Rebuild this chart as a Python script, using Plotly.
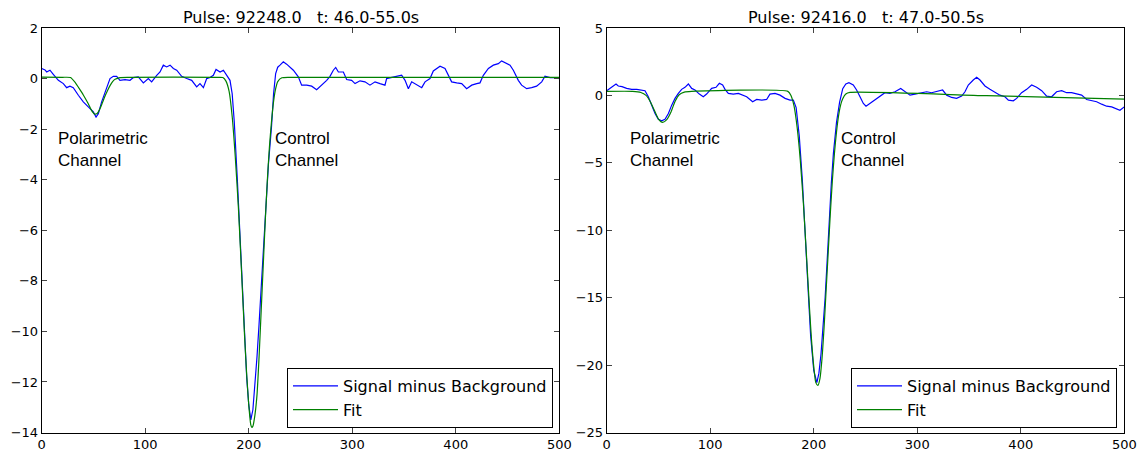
import plotly.graph_objects as go

# ---------------- data ----------------
# Left panel: Pulse 92248.0
left_sig_x = [0, 3.2, 4.8, 8.0, 11.2, 16.1, 20.9, 24.1, 27.3, 30.5, 35.4, 40.2, 45.0, 49.9, 52.5, 54.7,
              57.9, 62.1, 66.0, 69.2, 72.4, 75.6, 80.5, 85.3, 88.5, 93.3, 98.2, 103.0, 106.2, 111.1,
              114.3, 117.5, 120.7, 124.0, 127.2, 130.4, 135.2, 140.1, 144.9, 149.7, 152.9, 156.2,
              159.4, 162.6, 165.8, 168.4, 172.3, 175.5, 178.7, 181.9, 184, 186, 189, 192, 195, 198,
              200, 202, 204, 206, 208, 210, 213, 216, 219, 222, 224, 226, 228, 230.2, 233.4, 236.6,
              239.9, 243.1, 247.9, 251.1, 256.0, 260.8, 265.6, 270.5, 275.3, 278.5, 281.7, 284.0,
              286.6, 291.4, 294.6, 299.4, 302.7, 307.5, 312.3, 317.1, 322.0, 326.8, 331.6, 333.2,
              338.1, 342.9, 347.7, 351.0, 354.2, 357.4, 362.2, 367.1, 370.3, 375.1, 378.3, 381.5,
              384.8, 389.6, 392.8, 396.0, 400.9, 405.7, 410.5, 415.4, 420.2, 423.4, 426.6, 431.5,
              436.3, 441.1, 444.3, 447.6, 452.4, 455.6, 460.4, 463.6, 468.5, 473.3, 478.1, 483.0,
              486.2, 491.0, 495.9, 500]
left_sig_y = [0.4, 0.34, 0.26, 0.33, 0.17, -0.07, -0.2, -0.36, -0.3, -0.36, -0.66, -0.92, -1.12, -1.32,
              -1.52, -1.39, -0.92, -0.4, 0.0, 0.09, 0.09, -0.07, -0.04, -0.07, 0.04, 0.07, -0.17, 0.0,
              -0.13, 0.13, 0.26, 0.53, 0.46, 0.53, 0.4, 0.33, 0.09, 0.0, -0.07, -0.33, -0.2, -0.36,
              0.0, 0.04, 0.13, 0.36, 0.26, 0.33, 0.13, -0.07, -0.6, -1.7, -4.0, -6.6, -9.3, -11.8,
              -12.9, -13.5, -13.1, -12.2, -11.0, -9.7, -7.6, -5.4, -3.4, -1.9, -0.6, 0.2, 0.45, 0.53,
              0.66, 0.57, 0.46, 0.33, 0.07, -0.26, -0.26, -0.3, -0.44, -0.26, -0.07, 0.09, 0.33, 0.44,
              0.26, 0.26, -0.04, -0.07, -0.2, -0.09, -0.13, -0.26, -0.13, -0.2, -0.26, 0.0, 0.04, 0.09,
              0.13, -0.07, -0.4, -0.13, -0.26, -0.36, -0.13, 0.0, 0.3, 0.4, 0.49, 0.4, 0.13, -0.13,
              -0.17, -0.2, -0.4, -0.26, -0.2, -0.17, 0.13, 0.4, 0.53, 0.59, 0.7, 0.62, 0.53, 0.33,
              -0.07, -0.26, -0.4, -0.36, -0.3, -0.13, 0.09, 0.04, 0.04, 0.0]

left_fit_x = [0, 20, 27.8, 32.6, 36, 40.2, 45, 48, 50.9, 53.5, 56.3, 58.7, 61.1, 63.5, 66, 68.5, 70.9,
              75.6, 85, 170, 175, 178, 181, 184, 187, 190, 193, 196, 198, 200, 202, 203, 204, 206,
              208, 210, 212, 214, 216, 218, 220, 222, 224, 226, 228, 232, 240, 500]
left_fit_y = [0.06, 0.05, 0.04, -0.17, -0.38, -0.65, -1.0, -1.25, -1.4, -1.38, -1.19, -0.95, -0.7,
              -0.48, -0.28, -0.12, -0.03, 0.04, 0.05, 0.05, 0.04, -0.1, -0.5, -1.5, -3.1, -5.1, -7.6,
              -10.2, -11.7, -12.9, -13.7, -13.8, -13.75, -13.3, -12.5, -11.0, -9.2, -7.4, -5.6, -4.0,
              -2.7, -1.7, -0.9, -0.4, -0.12, 0.03, 0.05, 0.05]

# Right panel: Pulse 92416.0
right_sig_x = [0, 3.1, 6.4, 9.0, 11.2, 14.8, 19.3, 24.1, 29.0, 33.8, 37.0, 40.2, 43.4, 46.7, 49.9, 53.1,
               56.3, 59.6, 62.8, 66.0, 69.2, 72.4, 75.6, 78.9, 82.1, 85.3, 89.5, 93.3, 96.5, 101.4,
               105.6, 108.8, 112.0, 114.3, 117.5, 122.3, 127.2, 131.4, 135.2, 141.0, 144.9, 149.7,
               154.5, 157.7, 162.6, 167.4, 172.3, 177.1, 180.3, 183, 186, 189, 192, 195, 197, 198,
               200, 203, 205, 207, 209, 211, 213, 215, 217, 219, 222, 225, 228, 231, 234, 238.2,
               241.4, 244.7, 247.9, 250.5, 254.3, 259.2, 264.0, 268.8, 273.6, 278.5, 284.0, 288.1,
               293.0, 297.8, 302.6, 309.1, 313.9, 318.7, 324.5, 328.4, 333.2, 338.0, 342.9, 346.1,
               349.3, 354.1, 357.4, 360.6, 365.4, 370.2, 375.1, 379.9, 384.7, 388.0, 392.8, 396.0,
               400.8, 405.7, 410.5, 415.3, 420.2, 425.0, 429.8, 434.6, 439.5, 444.3, 449.1, 454.0,
               458.8, 463.6, 468.5, 473.3, 478.1, 482.9, 487.8, 492.6, 495.8, 500]
right_sig_y = [0.35, 0.52, 0.7, 0.85, 0.7, 0.65, 0.52, 0.45, 0.45, 0.4, 0.35, -0.1, -0.72, -1.34, -1.77,
               -1.89, -1.77, -1.34, -0.72, -0.22, 0.15, 0.45, 0.6, 0.85, 0.52, 0.4, 0.1, -0.1, 0.1,
               0.52, 0.6, 0.9, 0.77, 0.45, 0.15, 0.1, 0.15, 0.02, -0.1, -0.47, -0.3, -0.35, -0.3, 0.1,
               0.15, 0.02, -0.22, -0.35, -0.35, -0.9, -3.0, -6.3, -10.2, -15.0, -17.8, -18.8, -20.4,
               -21.3, -20.6, -19.2, -17.4, -15.0, -12.2, -9.2, -6.5, -4.3, -2.0, -0.5, 0.5, 0.85, 0.95,
               0.77, 0.4, -0.1, -0.6, -0.8, -0.6, -0.3, -0.1, 0.2, 0.15, 0.27, 0.52, 0.27, 0.02, 0.1,
               0.15, 0.27, 0.2, 0.27, 0.4, 0.02, -0.15, -0.22, -0.05, 0.27, 0.77, 1.14, 1.34, 1.14,
               0.7, 0.45, 0.2, 0.02, -0.1, -0.35, -0.4, -0.22, 0.2, 0.45, 0.77, 0.6, 0.35, -0.05,
               -0.1, 0.27, 0.35, 0.2, 0.2, 0.1, 0.02, -0.3, -0.4, -0.47, -0.65, -0.8, -0.85, -0.97,
               -1.1, -0.85]

right_fit_x = [0, 25, 33, 38, 42, 46, 50, 54, 58, 62, 66, 70, 75, 82, 175, 178, 181, 184, 187, 190,
               193, 196, 198, 200, 202, 204, 206, 208, 210, 212, 214, 216, 218, 220, 222, 224, 226,
               228, 231, 235, 367, 500]
right_fit_y = [0.3, 0.3, 0.22, 0.0, -0.45, -1.1, -1.75, -2.0, -1.8, -1.25, -0.45, 0.05, 0.25, 0.3, 0.3,
               0.0, -0.8, -2.4, -4.8, -8.0, -11.9, -15.9, -18.3, -20.1, -21.3, -21.5, -21.0, -19.5,
               -17.2, -14.4, -11.6, -8.8, -6.3, -4.3, -2.7, -1.5, -0.7, -0.25, 0.1, 0.22, -0.02, -0.27]

titles = ["Pulse: 92248.0   t: 46.0-55.0s", "Pulse: 92416.0   t: 47.0-50.5s"]
x_ticks = [0, 100, 200, 300, 400, 500]
left_y_ticks = [-14, -12, -10, -8, -6, -4, -2, 0, 2]
right_y_ticks = [-25, -20, -15, -10, -5, 0, 5]
series_names = ["Signal minus Background", "Fit"]

# ---------------- figure ----------------
W, H = 1142, 451
BLUE, GREEN = "#0000ff", "#008000"

fig = go.Figure()
fig.add_trace(go.Scatter(x=left_sig_x, y=left_sig_y, mode="lines", name=series_names[0],
                         line=dict(color=BLUE, width=1.2), xaxis="x", yaxis="y", legend="legend"))
fig.add_trace(go.Scatter(x=left_fit_x, y=left_fit_y, mode="lines", name=series_names[1],
                         line=dict(color=GREEN, width=1.2, shape="spline", smoothing=0.6),
                         xaxis="x", yaxis="y", legend="legend"))
fig.add_trace(go.Scatter(x=right_sig_x, y=right_sig_y, mode="lines", name=series_names[0],
                         line=dict(color=BLUE, width=1.2), xaxis="x2", yaxis="y2", legend="legend2"))
fig.add_trace(go.Scatter(x=right_fit_x, y=right_fit_y, mode="lines", name=series_names[1],
                         line=dict(color=GREEN, width=1.2, shape="spline", smoothing=0.6),
                         xaxis="x2", yaxis="y2", legend="legend2"))

ydom = [1 - 432.5 / H, 1 - 28 / H]
lx = [41.7 / W, 559.3 / W]
rx = [606.7 / W, 1124.3 / W]

axis_common = dict(showline=True, linecolor="black", linewidth=1, mirror="ticks", ticks="inside",
                   ticklen=5, tickcolor="#444", showgrid=False, zeroline=False, automargin=False,
                   tickfont=dict(family="DejaVu Sans", size=13, color="black"))

legend_common = dict(xanchor="right", y=1 - 428 / H, yanchor="bottom", itemwidth=45,
                     bordercolor="black", borderwidth=1, bgcolor="white",
                     font=dict(family="DejaVu Sans", size=16, color="black"), tracegroupgap=0)

fig.update_layout(
    width=W, height=H, margin=dict(l=0, r=0, t=0, b=0, autoexpand=False),
    paper_bgcolor="white", plot_bgcolor="white",
    xaxis=dict(domain=lx, range=[0, 500], tickvals=x_ticks, anchor="y", **axis_common),
    yaxis=dict(domain=ydom, range=[-14, 2], tickvals=left_y_ticks, anchor="x", **axis_common),
    xaxis2=dict(domain=rx, range=[0, 500], tickvals=x_ticks, anchor="y2", **axis_common),
    yaxis2=dict(domain=ydom, range=[-25, 5], tickvals=right_y_ticks, anchor="x2", **axis_common),
    legend=dict(x=553 / W, **legend_common),
    legend2=dict(x=1117 / W, **legend_common),
    showlegend=True,
)

title_font = dict(family="DejaVu Sans", size=16, color="black")
for t, dom in zip(titles, [lx, rx]):
    fig.add_annotation(text=t.replace(" ", "\u00a0"), xref="paper", yref="paper",
                       x=(dom[0] + dom[1]) / 2, y=1 - 17 / H, xanchor="center", yanchor="middle",
                       showarrow=False, font=title_font)

ann_font = dict(family="Liberation Sans, Arial", size=17, color="black")
fig.add_annotation(text="Polarimetric<br>Channel", xref="x", yref="y", x=13.8, y=-1.93,
                   xanchor="left", yanchor="top", align="left", showarrow=False, font=ann_font)
fig.add_annotation(text="Control<br>Channel", xref="x", yref="y", x=223.5, y=-1.93,
                   xanchor="left", yanchor="top", align="left", showarrow=False, font=ann_font)
fig.add_annotation(text="Polarimetric<br>Channel", xref="x2", yref="y2", x=20.9, y=-2.32,
                   xanchor="left", yanchor="top", align="left", showarrow=False, font=ann_font)
fig.add_annotation(text="Control<br>Channel", xref="x2", yref="y2", x=224.7, y=-2.32,
                   xanchor="left", yanchor="top", align="left", showarrow=False, font=ann_font)

fig.write_html("out.html")
